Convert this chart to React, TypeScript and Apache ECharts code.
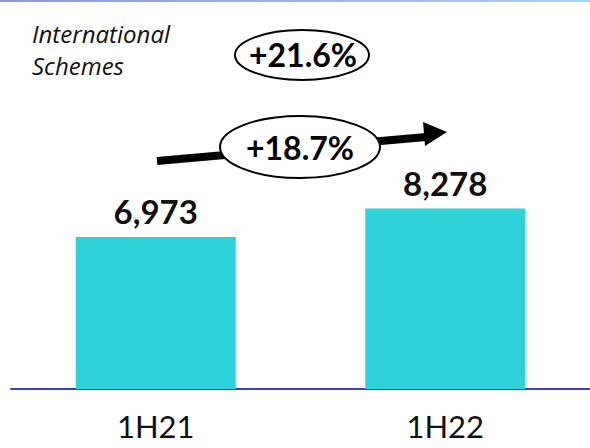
import React, { useEffect, useRef } from "react";
import * as echarts from "echarts";

const categories = ["1H21", "1H22"];
const values = [6973, 8278];
const growthTotal = "+21.6%";
const growthSegment = "+18.7%";
const titleLines = ["International", "Schemes"];

export default function App() {
  const ref = useRef<HTMLDivElement>(null);
  useEffect(() => {
    if (!ref.current) return;
    const chart = echarts.init(ref.current, null, { renderer: "svg" });
    const font = "Lato, 'Open Sans', sans-serif";
    chart.setOption({
      animation: false,
      grid: { left: 11, width: 580, top: 171, bottom: 59 },
      xAxis: {
        type: "category",
        data: categories,
        axisLine: { lineStyle: { color: "#3b44b5", width: 2 } },
        axisTick: { show: false },
        axisLabel: { color: "#111", fontSize: 31, fontFamily: font, margin: 21 },
      },
      yAxis: {
        type: "value",
        min: 0,
        max: 10000,
        show: false,
        splitLine: { show: false },
      },
      series: [
        {
          type: "bar",
          data: values,
          barWidth: 160,
          itemStyle: { color: "#2ED3DA" },
          label: {
            show: true,
            position: "top",
            distance: 9,
            color: "#111",
            fontSize: 33,
            fontWeight: "bold",
            fontFamily: font,
            formatter: (p: any) => Number(p.value).toLocaleString("en-US"),
          },
        },
      ],
      graphic: [
        {
          type: "rect",
          shape: { x: 0, y: 0, width: 590, height: 2 },
          style: {
            fill: new echarts.graphic.LinearGradient(0, 0, 1, 0, [
              { offset: 0, color: "#8e96e4" },
              { offset: 1, color: "#a6d2f6" },
            ]),
          },
        },
        {
          type: "text",
          x: 32,
          y: 17,
          style: {
            text: titleLines.join("\n"),
            font: "italic 24px 'Open Sans', sans-serif",
            lineHeight: 32,
            fill: "#111",
            align: "left",
            verticalAlign: "top",
          },
        },
        {
          type: "ellipse",
          shape: { cx: 302, cy: 55, rx: 67, ry: 25 },
          style: { fill: "#fff", stroke: "#000", lineWidth: 2 },
        },
        {
          type: "text",
          x: 303,
          y: 54,
          style: {
            text: growthTotal,
            font: `bold 32px ${font}`,
            fill: "#000",
            align: "center",
            verticalAlign: "middle",
          },
        },
        {
          type: "line",
          shape: { x1: 157, y1: 161, x2: 426, y2: 137 },
          style: { stroke: "#000", lineWidth: 8 },
        },
        {
          type: "polygon",
          shape: { points: [[423, 122], [447, 132], [425, 146]] },
          style: { fill: "#000" },
        },
        {
          type: "ellipse",
          shape: { cx: 300, cy: 147, rx: 80, ry: 31 },
          style: { fill: "#fff", stroke: "#000", lineWidth: 2 },
        },
        {
          type: "text",
          x: 300,
          y: 147,
          style: {
            text: growthSegment,
            font: `bold 32px ${font}`,
            fill: "#000",
            align: "center",
            verticalAlign: "middle",
          },
        },
      ],
    });
    return () => chart.dispose();
  }, []);
  return (
    <div
      ref={ref}
      style={{ position: "fixed", left: 0, top: 0, width: 590, height: 448, background: "#fff" }}
    />
  );
}
